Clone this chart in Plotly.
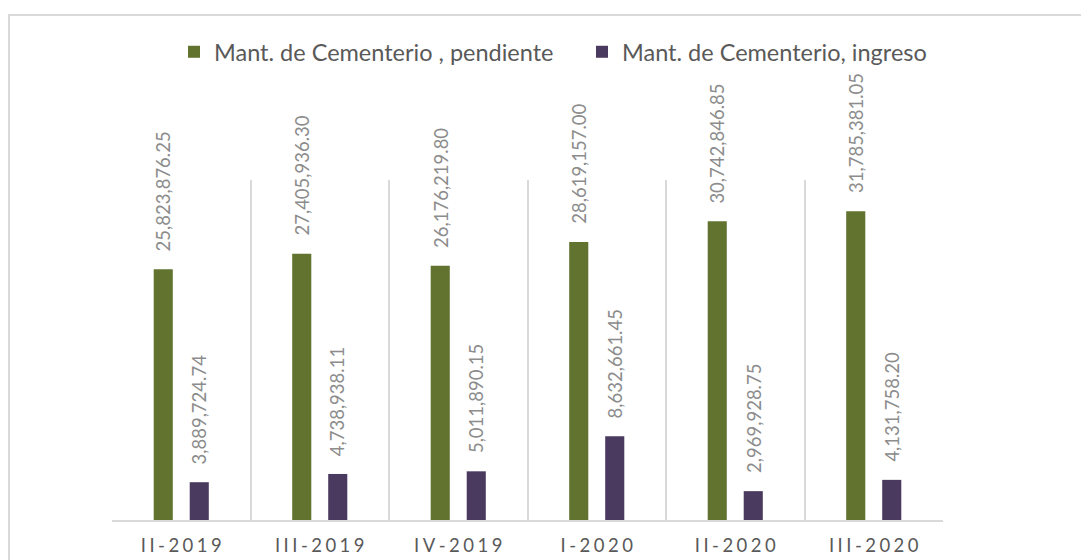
import plotly.graph_objects as go

categories = ["II-2019", "III-2019", "IV-2019", "I-2020", "II-2020", "III-2020"]
pendiente = [25823876.25, 27405936.30, 26176219.80, 28619157.00, 30742846.85, 31785381.05]
ingreso = [3889724.74, 4738938.11, 5011890.15, 8632661.45, 2969928.75, 4131758.20]
series_names = ["Mant. de Cementerio , pendiente", "Mant. de Cementerio, ingreso"]
colors = ["#61732f", "#4b3a5f"]

W, H = 1089, 560
OFF = 8  # page body margin
L, R, T, B = 112 - OFF, 943 - OFF, 180 - OFF, 520 - OFF

fig = go.Figure()
for name, vals, col in zip(series_names, [pendiente, ingreso], colors):
    fig.add_trace(go.Bar(x=categories, y=vals, name=name, marker=dict(color=col, line=dict(width=0)),
                         hoverinfo="x+y"))

def fmt(v):
    return f"{v:,.2f}"

annotations = []
for vals, shift in [(pendiente, -18), (ingreso, 18)]:
    for c, v in zip(categories, vals):
        annotations.append(dict(x=c, y=v, xref="x", yref="y", text=fmt(v), showarrow=False,
                                textangle=-90, xanchor="center", yanchor="bottom",
                                xshift=shift, yshift=16,
                                font=dict(family="Lato", size=18.5, color="#8c8c8c")))

tick_text = ["\u2009\u200a".join(list(c)) for c in categories]

fig.update_layout(
    width=W, height=H,
    margin=dict(l=L, r=W - R, t=T, b=H - B, autoexpand=False),
    paper_bgcolor="white", plot_bgcolor="white",
    barmode="group", bargap=0.48, bargroupgap=0.47,
    showlegend=True,
    legend=dict(orientation="h", x=(174 - OFF - L) / (R - L), y=(B - (52 - OFF)) / (B - T),
                xanchor="left", yanchor="middle",
                font=dict(family="Lato", size=23.5, color="#595959"),
                itemwidth=30, entrywidth=363, entrywidthmode="pixels", traceorder="normal"),
    annotations=annotations,
    xaxis=dict(tickmode="array", tickvals=categories, ticktext=tick_text,
               tickson="boundaries", showgrid=True, gridcolor="#d9d9d9", gridwidth=2,
               showline=True, linecolor="#d9d9d9", linewidth=2, ticks="",
               ticklabelstandoff=8,
               tickfont=dict(family="Lato", size=18.5, color="#595959")),
    yaxis=dict(range=[0, 35000000], visible=False, showgrid=False, zeroline=False),
    shapes=[dict(type="rect", xref="paper", yref="paper",
                 x0=(9 - OFF - L) / (R - L), x1=(1100 - L) / (R - L),
                 y0=(B - 580) / (B - T), y1=(B - (15 - OFF)) / (B - T),
                 line=dict(color="#d9d9d9", width=2), layer="below")],
    font=dict(family="Lato"),
)
fig.write_html("out.html")
